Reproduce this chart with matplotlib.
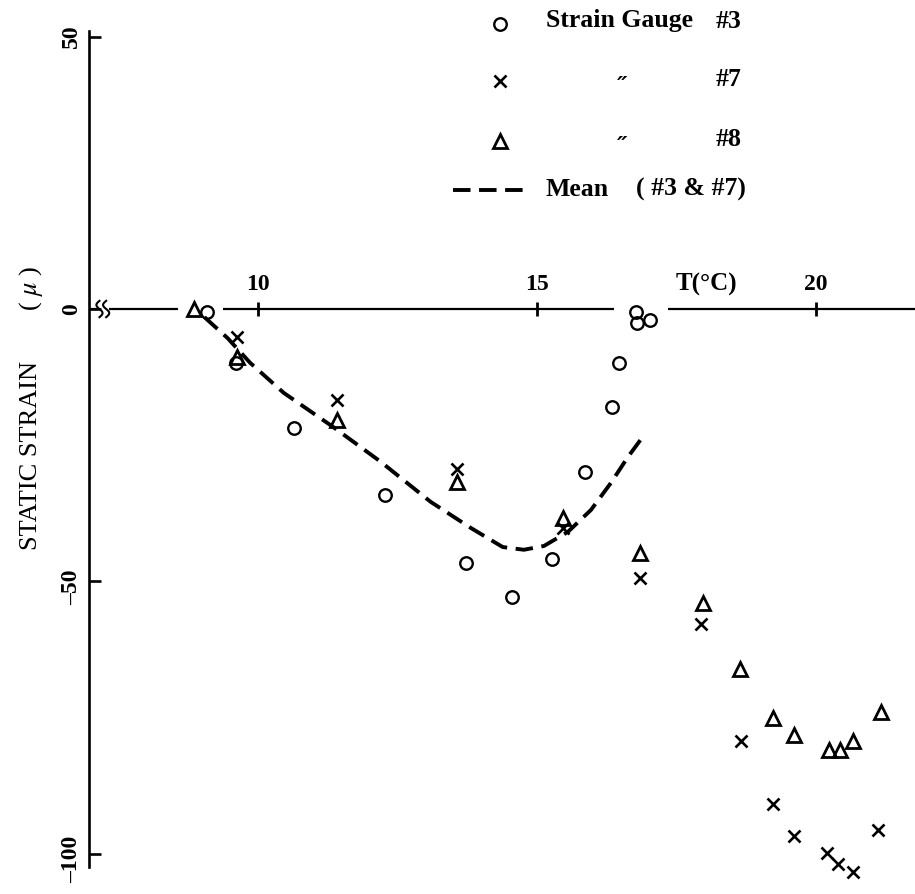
import numpy as np
import matplotlib
matplotlib.use("Agg")
import matplotlib.pyplot as plt
from matplotlib.transforms import offset_copy

plt.rcParams['font.family'] = ['Liberation Serif', 'DejaVu Serif']
plt.rcParams['mathtext.fontset'] = 'stix'

# Strain gauge #3 (open circles)
gauge3_T = [9.10, 9.62, 10.65, 12.29, 13.73, 14.55, 15.27, 15.86, 16.34, 16.47, 16.77, 16.79, 17.03]
gauge3_strain = [-0.5, -9.9, -21.8, -34.1, -46.6, -52.9, -45.9, -29.9, -18.0, -9.9, -0.5, -2.6, -2.0]

# Strain gauge #7 (crosses)
gauge7_T = [9.64, 11.43, 13.58, 15.47, 16.85, 17.94, 18.66, 19.23, 19.61, 20.20, 20.39, 20.66, 21.11]
gauge7_strain = [-5.1, -16.7, -29.4, -40.2, -49.4, -57.8, -79.3, -90.9, -96.8, -99.9, -101.9, -103.4, -95.7]

# Strain gauge #8 (open triangles)
gauge8_T = [8.87, 9.64, 11.43, 13.58, 15.47, 16.85, 17.98, 18.64, 19.23, 19.61, 20.23, 20.43, 20.66, 21.16]
gauge8_strain = [0.0, -8.8, -20.4, -31.8, -38.4, -44.8, -54.0, -66.1, -75.1, -78.2, -81.0, -81.0, -79.3, -74.0]

# Mean curve of gauges #3 and #7
mean_T = [9.05, 9.46, 9.87, 10.47, 11.36, 12.20, 13.10, 13.82, 14.39, 14.77, 15.13, 15.56, 15.97, 16.33, 16.63, 16.86]
mean_strain = [-1.5, -5.3, -9.9, -15.4, -21.7, -28.0, -35.4, -40.2, -43.7, -44.2, -43.5, -40.9, -36.9, -31.9, -27.2, -24.0]

x_ticks = [10, 15, 20]
y_ticks = [50, 0, -50, -100]
y_tick_labels = ["50", "0", "\u201350", "\u2013100"]

# temperature axis drawn as pieces, broken near the origin and around the labels
axis_segments = [(6.98, 7.12), (7.34, 8.58), (9.39, 16.38), (17.35, 21.8)]
break_marks = [7.17, 7.29]

fig = plt.figure(figsize=(9.15, 8.94), dpi=100)
ax = fig.add_axes([0, 0, 1, 1])
ax.set_xlim(5.389, 21.773)
ax.set_ylim(-107.4, 56.73)

for s in ['right', 'bottom']:
    ax.spines[s].set_visible(False)
ax.spines['left'].set_position(('data', 6.98))
ax.spines['left'].set_bounds(-102.5, 51)
ax.spines['left'].set_linewidth(1.9)
ax.spines['top'].set_position(('data', 0))
ax.spines['top'].set_visible(False)

ax.xaxis.set_ticks_position('top')
ax.set_xticks(x_ticks)
ax.set_xticklabels([str(t) for t in x_ticks], fontweight='bold')
ax.tick_params(axis='x', direction='inout', length=10, width=2.0, pad=5,
               labelsize=17, labeltop=True, labelbottom=False)
ax.set_yticks(y_ticks)
ax.tick_params(axis='y', direction='in', length=8.5, width=1.9, labelleft=False)

# horizontal temperature axis
for a, b in axis_segments:
    ax.plot([a, b], [0, 0], color='black', lw=1.6, solid_capstyle='butt', zorder=2)
yy = np.linspace(-1.5, 1.5, 40)
for t0 in break_marks:
    ax.plot(t0 - 0.055 * np.sin(np.pi * yy / 1.5), yy, color='black', lw=1.5, zorder=2)

# rotated strain tick labels, digits centred on the tick
for v, lab in zip(y_ticks, y_tick_labels):
    tr = ax.transData
    if lab.startswith('\u2013'):
        tr = offset_copy(ax.transData, fig=fig, y=-4.3, units='points')
    ax.text(6.98 - 0.31, v, lab, rotation=90, ha='center', va='center',
            fontsize=17, fontweight='bold', transform=tr)

ax.text(706 / 915, 1 - 284 / 894, "T(\u00b0C)", transform=ax.transAxes,
        ha='center', va='center', fontsize=18, fontweight='bold')

ax.text(31 / 915, 1 - 455 / 894, "STATIC STRAIN", transform=ax.transAxes,
        rotation=90, ha='center', va='center', fontsize=19)
ax.text(31 / 915, 1 - 288 / 894, "( $\\mu$ )", transform=ax.transAxes,
        rotation=90, ha='center', va='center', fontsize=19)

circle_kw = dict(marker='o', ms=9, mfc='none', mec='black', mew=1.7, ls='none', zorder=4)
cross_kw = dict(marker='x', ms=8, mec='black', mew=1.9, ls='none', zorder=4)
tri_kw = dict(marker='^', ms=9.5, mfc='none', mec='black', mew=2.0, ls='none', zorder=4)
dash_kw = dict(color='black', lw=2.8, ls=(0, (4.5, 2.2)), dash_capstyle='butt', zorder=3)

ax.plot(mean_T, mean_strain, **dash_kw)
ax.plot(gauge3_T, gauge3_strain, **circle_kw)
ax.plot(gauge7_T, gauge7_strain, **cross_kw)
ax.plot(gauge8_T, gauge8_strain, **tri_kw)

# key
def fx(px):
    return px / 915

def fy(py):
    return 1 - py / 894

tr = ax.transAxes
ax.plot([fx(500)], [fy(24)], transform=tr, **circle_kw)
ax.plot([fx(500)], [fy(81)], transform=tr, **cross_kw)
ax.plot([fx(500)], [fy(141)], transform=tr, **tri_kw)
ax.plot([fx(453), fx(528)], [fy(190), fy(190)], transform=tr, **dash_kw)

kw = dict(transform=tr, va='center', fontsize=18.5, fontweight='bold')
ax.text(fx(546), fy(21), "Strain Gauge", ha='left', **kw)
ax.text(fx(716), fy(21), "#3", ha='left', **kw)
ax.text(fx(716), fy(79), "#7", ha='left', **kw)
ax.text(fx(716), fy(139), "#8", ha='left', **kw)
ax.text(fx(546), fy(189), "Mean", ha='left', **kw)
ax.text(fx(636), fy(189), "( #3 & #7)", ha='left', **kw)
for row in (79, 139):
    ax.text(fx(622), fy(row + 8), "\u2033", ha='center', va='center',
            transform=tr, fontsize=17, fontweight='bold', fontstyle='italic',
            family=['DejaVu Serif'])

fig.savefig("out.png", dpi=100)
